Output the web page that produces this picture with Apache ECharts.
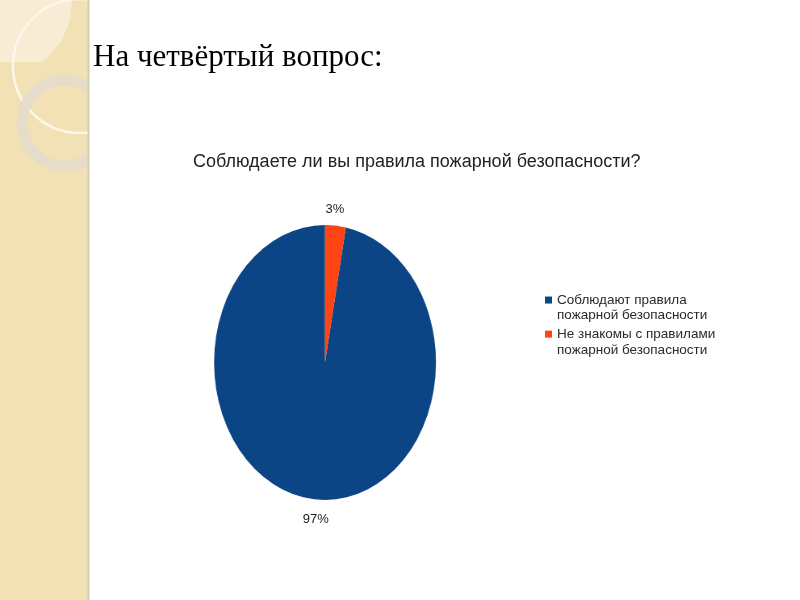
<!DOCTYPE html>
<html>
<head>
<meta charset="UTF-8">
<title>Соблюдаете ли вы правила пожарной безопасности?</title>
<style>
	html,body{
		margin:0px;
		padding:0px;
		width:800px;
		height:600px;
		overflow:hidden;
		background:#fff;
	}
	#slide{position:absolute;left:0;top:0;width:800px;height:600px;}
	/* пирог в Excel вытянут по вертикали - сжимаем слой с кругом по X */
	#pie{position:absolute;left:0;top:0;width:991px;height:600px;transform:scaleX(0.807);transform-origin:0 0;}
</style>
</head>
<body>
<div id="slide"></div>
<div id="pie"></div>
<script src="https://cdn.jsdelivr.net/npm/echarts@6/dist/echarts.min.js"></script>
<script>
	var slideTitle = 'На четвёртый вопрос:';
	var chartTitle = 'Соблюдаете ли вы правила пожарной безопасности?';
	var categories = ['Соблюдают правила\nпожарной безопасности', 'Не знакомы с правилами\nпожарной безопасности'];
	var values = [97, 3];

	var colors = ['#0b4586', '#ff4413'];
	var font = 'Liberation Sans';
	var squeeze = 0.807; // то же, что в scaleX
	var pieX = 325;

	var slideChart = echarts.init(document.getElementById('slide'));
	var pieChart = echarts.init(document.getElementById('pie'));

	// подписи и легенда - прозрачный пирог в обычном масштабе
	var labelData = [];
	var pieData = [];
	for (var i = 0; i < categories.length; i++) {
		labelData.push({name: categories[i], value: values[i]});
		pieData.push({name: categories[i], value: values[i], itemStyle: {color: colors[i]}});
	}

	slideChart.setOption({
		animation: false,
		title: [
			{
				text: slideTitle,
				left: 88,
				top: 37,
				textStyle: {fontFamily: 'Liberation Serif', fontSize: 31, fontWeight: 'normal', color: '#000'}
			},
			{
				text: chartTitle,
				left: 188,
				top: 148,
				textStyle: {fontFamily: font, fontSize: 18, fontWeight: 'normal', color: '#222'}
			}
		],
		legend: {
			orient: 'vertical',
			left: 540,
			top: 271.5,
			icon: 'rect',
			itemWidth: 7,
			itemHeight: 7,
			itemGap: -13,
			selectedMode: false,
			// пустая первая строка - чтобы квадратик стоял у первой строки текста
			formatter: function (name) {
				return '\n' + name;
			},
			textStyle: {fontFamily: font, fontSize: 13.5, lineHeight: 15.7, color: '#2a2a2a'},
			data: categories.map(function (n, i) {
				return {name: n, itemStyle: {color: colors[i]}};
			})
		},
		graphic: [
			{type: 'rect', z: 0, shape: {x: 0, y: 0, width: 88, height: 600}, style: {fill: '#f3e1b6'}},
			{type: 'polygon', z: 0.1, shape: {points: [[0, 0], [72, 0], [70, 20], [62, 40], [50, 55], [42, 62], [0, 62]]}, style: {fill: '#f8edd4'}},
			{type: 'circle', z: 0.2, shape: {cx: 80, cy: 66, r: 67}, style: {fill: 'transparent', stroke: '#fcf7ea', lineWidth: 2.5}},
			{type: 'circle', z: 0.3, shape: {cx: 65, cy: 123, r: 43}, style: {fill: 'transparent', stroke: 'rgba(226,219,204,0.85)', lineWidth: 11}},
			{type: 'rect', z: 0.4, shape: {x: 88, y: 0, width: 712, height: 600}, style: {fill: '#fff'}},
			{type: 'line', z: 0.5, shape: {x1: 88.5, y1: 0, x2: 88.5, y2: 600}, style: {stroke: '#d6ccb4', lineWidth: 2}}
		],
		series: [
			{
				type: 'pie',
				z: 2,
				center: [pieX, 362.5],
				radius: 137.5,
				startAngle: 90,
				clockwise: false,
				silent: true,
				itemStyle: {color: 'rgba(0,0,0,0)'},
				label: {formatter: '{c}%', fontFamily: font, fontSize: 13, color: '#222', distanceToLabelLine: 0},
				labelLine: {show: false, length: 18, length2: 0},
				// подписи тоже прижимаем к центру по X, как сжат сам пирог
				labelLayout: function (params) {
					var r = params.labelRect;
					var mid = r.x + r.width / 2;
					return {align: 'center', dx: (pieX - mid) * (1 - squeeze), dy: 2};
				},
				data: labelData
			}
		]
	});

	pieChart.setOption({
		animation: false,
		series: [
			{
				type: 'pie',
				center: [pieX / squeeze, 362.5],
				radius: 137.5,
				startAngle: 90,
				clockwise: false,
				silent: true,
				label: {show: false},
				labelLine: {show: false},
				data: pieData
			}
		]
	});
</script>
</body>
</html>
